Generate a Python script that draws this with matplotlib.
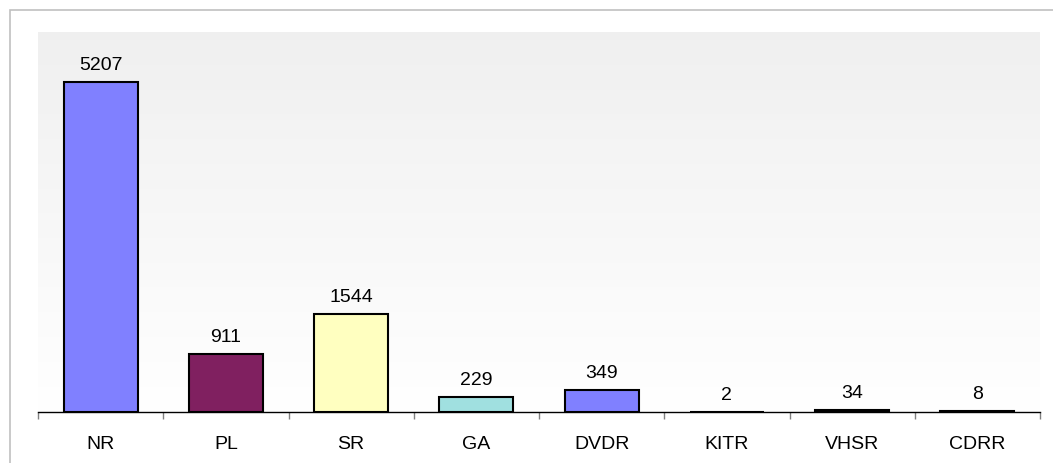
import matplotlib
matplotlib.use("Agg")
import matplotlib.pyplot as plt
import numpy as np
from matplotlib.patches import Rectangle

categories = ["NR", "PL", "SR", "GA", "DVDR", "KITR", "VHSR", "CDRR"]
values = [5207, 911, 1544, 229, 349, 2, 34, 8]
colors = ["#8080ff", "#802060", "#ffffc0", "#a0e0e0", "#8080ff", "#ff8080", "#0066cc", "#c0c0ff"]

plt.rcParams['font.family'] = ['Liberation Sans', 'DejaVu Sans']

W, H = 1053, 463
fig = plt.figure(figsize=(W / 100, H / 100), dpi=100)
fig.patch.set_facecolor("white")

# outer border
fig.patches.append(Rectangle((10 / W, -0.05), 1.2, (H - 10) / H + 0.05, transform=fig.transFigure,
                             fill=False, edgecolor="#c0c0c0", linewidth=1.2))

left, right, top, bottom = 38, 1040, 32, 412
ax = fig.add_axes([left / W, (H - bottom) / H, (right - left) / W, (bottom - top) / H])

n = len(categories)
x = np.arange(n)
ymax = 6000

# gradient background (gray at top, white at bottom)
grad = np.linspace(0.94, 1.0, 256).reshape(-1, 1)
ax.imshow(np.dstack([grad, grad, grad]), extent=(-0.5, n - 0.5, 0, ymax), aspect="auto",
          zorder=0, origin="upper")
ax.set_xlim(-0.5, n - 0.5)
ax.set_ylim(0, ymax)

ax.bar(x, values, width=0.59, color=colors, edgecolor="black", linewidth=1.5, zorder=2)

for xi, v in zip(x, values):
    ax.annotate(str(v), (xi, v), xytext=(0, 6), textcoords="offset points",
                ha="center", va="bottom", fontsize=14, color="black")

for s in ["top", "right", "left"]:
    ax.spines[s].set_visible(False)
ax.spines["bottom"].set_color("black")
ax.spines["bottom"].set_linewidth(1.0)
ax.spines["bottom"].set_zorder(3)

ax.set_yticks([])
ax.set_xticks(np.arange(-0.5, n, 1.0))
ax.set_xticklabels([])
ax.tick_params(axis="x", length=5, color="#808080", width=1.0, direction="out")
ax.set_xticks(x, minor=True)
ax.set_xticklabels(categories, minor=True, fontsize=14)
ax.tick_params(axis="x", which="minor", length=0, pad=17)

fig.savefig("out.png", dpi=100)
